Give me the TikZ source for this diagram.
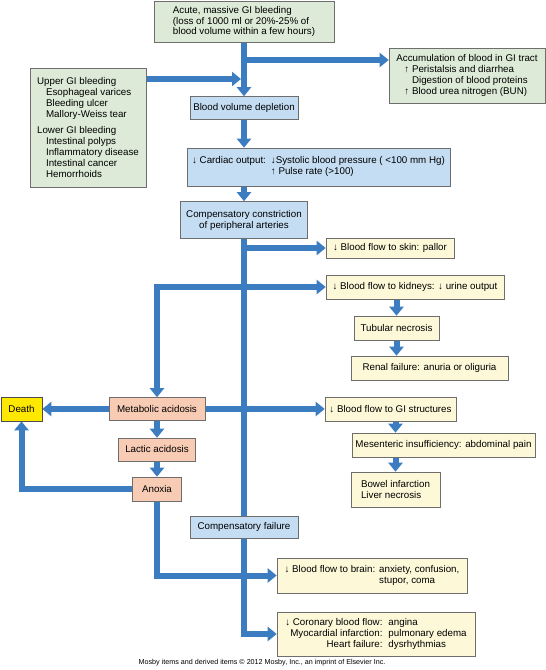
\documentclass[tikz,border=0pt]{standalone}
\usepackage{fontspec}
\setmainfont{Liberation Sans}
\usetikzlibrary{arrows.meta,backgrounds}
\definecolor{flowblue}{HTML}{3B7DC0}
\definecolor{boxgray}{HTML}{6E6E6E}
\definecolor{boxgreen}{HTML}{DCEAD7}
\definecolor{boxblue}{HTML}{C4DDF3}
\definecolor{boxyellow}{HTML}{FCF8D8}
\definecolor{boxsalmon}{HTML}{F8CBB4}
\definecolor{deathyellow}{HTML}{FFE800}

\begin{document}
\begin{tikzpicture}[x=1bp, y=-1bp, font=\fontsize{9.8}{11}\selectfont]
    \tikzset{
      box/.style={draw=boxgray, line width=0.6bp, inner sep=2bp, align=center},
      greenbox/.style={box, fill=boxgreen},
      bluebox/.style={box, fill=boxblue},
      yellowbox/.style={box, fill=boxyellow},
      salmonbox/.style={box, fill=boxsalmon},
      deathbox/.style={box, fill=deathyellow, draw=black!70},
      flow/.style={draw=flowblue, line width=6bp, -{Triangle[width=14bp, length=9bp]}}
    }
    \useasboundingbox (0,0) rectangle (546,670);

    % main column
    \draw (244,21.5) node (bleed) [greenbox, minimum width=180bp, minimum height=41bp, align=left]
      {Acute, massive GI bleeding\\(loss of 1000 ml or 20\%-25\% of\\blood volume within a few hours)};
    \draw (467,75.5) node (accum) [greenbox, minimum width=156bp, minimum height=55bp, align=left]
      {Accumulation of blood in GI tract\\
       \hspace*{8bp}↑ Peristalsis and diarrhea\\
       \hspace*{8bp}\phantom{↑ }Digestion of blood proteins\\
       \hspace*{8bp}↑ Blood urea nitrogen (BUN)};
    \draw (88,127.5) node (causes) [greenbox, minimum width=116bp, minimum height=119bp, align=left]
      {Upper GI bleeding\\
       \hspace*{9bp}Esophageal varices\\
       \hspace*{9bp}Bleeding ulcer\\
       \hspace*{9bp}Mallory-Weiss tear\\[5bp]
       Lower GI bleeding\\
       \hspace*{9bp}Intestinal polyps\\
       \hspace*{9bp}Inflammatory disease\\
       \hspace*{9bp}Intestinal cancer\\
       \hspace*{9bp}Hemorrhoids};
    \draw (244,108) node (bvd) [bluebox, minimum width=108bp, minimum height=23bp] {Blood volume depletion};
    \draw (318.5,167) node (cardiac) [bluebox, minimum width=263bp, minimum height=38bp]
      {\begin{tabular}{@{}l@{\hspace{5bp}}l@{}}
        ↓ Cardiac output: & ↓Systolic blood pressure ( <100 mm Hg)\\
        & ↑ Pulse rate (>100)
       \end{tabular}};
    \draw (244,220) node (constr) [bluebox, minimum width=127bp, minimum height=37bp]
      {Compensatory constriction\\of peripheral arteries};

    % organ branches
    \draw (390,248) node (skin) [yellowbox, minimum width=128bp, minimum height=20bp] {↓ Blood flow to skin: pallor};
    \draw (415,287) node (kidney) [yellowbox, minimum width=178bp, minimum height=24bp] {↓ Blood flow to kidneys: ↓ urine output};
    \draw (396.5,328) node (tubular) [yellowbox, minimum width=85bp, minimum height=24bp] {Tubular necrosis};
    \draw (429.5,368) node (renal) [yellowbox, minimum width=157bp, minimum height=24bp] {Renal failure: anuria or oliguria};
    \draw (390.5,409) node (gi) [yellowbox, minimum width=131bp, minimum height=24bp] {↓ Blood flow to GI structures};
    \draw (443.5,445) node (mes) [yellowbox, minimum width=183bp, minimum height=24bp] {Mesenteric insufficiency: abdominal pain};
    \draw (395.5,489.5) node (bowel) [yellowbox, minimum width=89bp, minimum height=35bp, align=left] {Bowel infarction\\Liver necrosis};

    % acidosis chain
    \draw (21.5,409) node (death) [deathbox, minimum width=41bp, minimum height=24bp] {Death};
    \draw (157,409) node (meta) [salmonbox, minimum width=96bp, minimum height=23bp] {Metabolic acidosis};
    \draw (157,449.5) node (lactic) [salmonbox, minimum width=77bp, minimum height=23bp] {Lactic acidosis};
    \draw (157,489) node (anoxia) [salmonbox, minimum width=49bp, minimum height=24bp] {Anoxia};

    % failure
    \draw (244,527) node (failure) [bluebox, minimum width=108bp, minimum height=22bp] {Compensatory failure};
    \draw (372,575.5) node (brain) [yellowbox, minimum width=190bp, minimum height=35bp]
      {\begin{tabular}{@{}l@{\hspace{4bp}}l@{}}
        ↓ Blood flow to brain: & anxiety, confusion,\\
        & stupor, coma
       \end{tabular}};
    \draw (376,634) node (coronary) [yellowbox, minimum width=198bp, minimum height=44bp]
      {\begin{tabular}{@{}r@{\hspace{6bp}}l@{}}
        ↓ Coronary blood flow: & angina\\
        Myocardial infarction: & pulmonary edema\\
        Heart failure: & dysrhythmias
       \end{tabular}};

    \draw (262,662.5) node (credit) [inner sep=0pt, font=\fontsize{7.2}{8}\selectfont]
      {Mosby items and derived items © 2012 Mosby, Inc., an imprint of Elsevier Inc.};

    \begin{scope}[on background layer]
      \coordinate (split) at (244,60);
      \coordinate (join) at (241,79);
      \draw[flow] (bleed.south) -- (bvd.north);
      \draw[flow] (split) -- (split -| accum.west);
      \draw[flow] (join -| causes.east) -- (join);
      \draw[flow] (bvd.south) -- (bvd.south |- cardiac.north);
      \draw[flow] (constr.north |- cardiac.south) -- (constr.north);
      \foreach \to in {skin, kidney, coronary}
        \draw[flow] (constr.south) |- (\to.west);
      \draw[flow] (constr.south |- kidney.west) -| (meta.north);
      \draw[flow] (tubular.north |- kidney.south) -- (tubular.north);
      \draw[flow] (tubular.south) -- (tubular.south |- renal.north);
      \draw[flow] (meta.east) -- (gi.west);
      \draw[flow] (bowel.north |- gi.south) -- (bowel.north |- mes.north);
      \draw[flow] (bowel.north |- mes.south) -- (bowel.north);
      \draw[flow] (meta.west) -- (death.east);
      \draw[flow] (meta.south) -- (lactic.north);
      \draw[flow] (lactic.south) -- (anoxia.north);
      \draw[flow] (anoxia.west) -| (death.south);
      \draw[flow] (anoxia.south) |- (brain.west);
    \end{scope}
\end{tikzpicture}
\end{document}
